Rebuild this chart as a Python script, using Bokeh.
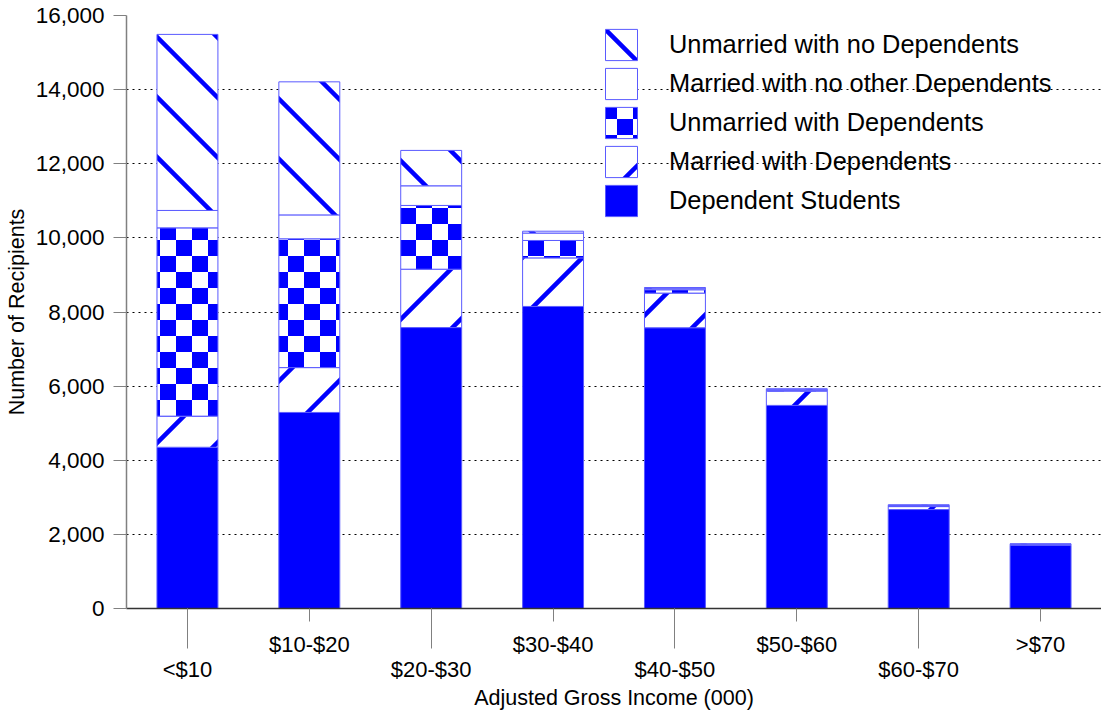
from bokeh.plotting import figure
from bokeh.core.properties import value
from bokeh.models import (ColumnDataSource, FactorRange, Range1d, LinearAxis, FixedTicker,
                          NumeralTickFormatter, Legend, LegendItem, CanvasTexture)
from bokeh.embed import file_html
from bokeh.resources import INLINE

# ---------------- data ----------------
categories = ["<$10", "$10-$20", "$20-$30", "$30-$40", "$40-$50", "$50-$60", "$60-$70", ">$70"]
dependent_students = [4350, 5290, 7580, 8150, 7575, 5480, 2670, 1700]
married_with_dependents = [840, 1210, 1575, 1310, 935, 385, 80, 25]
unmarried_with_dependents = [5080, 3475, 1720, 470, 90, 20, 15, 5]
married_no_other_dependents = [470, 645, 530, 200, 30, 20, 15, 5]
unmarried_no_dependents = [4750, 3590, 955, 50, 30, 25, 20, 10]
y_ticks = [0, 2000, 4000, 6000, 8000, 10000, 12000, 14000, 16000]
series_names = ["Dependent Students", "Married with Dependents", "Unmarried with Dependents",
                "Married with no other Dependents", "Unmarried with no Dependents"]

BLUE = "#0000ff"
FONT = "Liberation Sans"

src = ColumnDataSource(dict(
    cat=categories,
    ds=dependent_students,
    mwd=married_with_dependents,
    uwd=unmarried_with_dependents,
    mno=married_no_other_dependents,
    und=unmarried_no_dependents,
))
keys = ["ds", "mwd", "uwd", "mno", "und"]

p = figure(width=1101, height=714, x_range=FactorRange(*categories), y_range=Range1d(0, 16000),
           x_axis_type=None, output_backend="svg", toolbar_location=None,
           min_border_left=126, min_border_right=0, min_border_top=15, min_border_bottom=106)
p.outline_line_color = None
p.background_fill_color = "white"
p.border_fill_color = "white"

# pattern textures: large tiles (fewer seams), several stripes / squares per tile
right_diag = CanvasTexture(code="""
const S = 600, D = 60;
ctx.canvas.width = S; ctx.canvas.height = S;
ctx.strokeStyle = '#0000ff';
ctx.lineWidth = 4.5;
for (let k = -S; k <= S; k += D) {
  ctx.beginPath(); ctx.moveTo(k, S); ctx.lineTo(k + S, 0); ctx.stroke();
}
""")
left_diag = CanvasTexture(code="""
const S = 600, D = 60;
ctx.canvas.width = S; ctx.canvas.height = S;
ctx.strokeStyle = '#0000ff';
ctx.lineWidth = 4.5;
for (let k = -S; k <= S; k += D) {
  ctx.beginPath(); ctx.moveTo(k, 0); ctx.lineTo(k + S, S); ctx.stroke();
}
""")
checker = CanvasTexture(code="""
const S = 320, Q = 16;
ctx.canvas.width = S; ctx.canvas.height = S;
ctx.fillStyle = '#0000ff';
for (let i = 0; i < S / Q; i++) {
  for (let j = 0; j < S / Q; j++) {
    if ((i + j) % 2 === 0) ctx.fillRect(i * Q, j * Q, Q, Q);
  }
}
""")

fills = [BLUE, "white", "white", "white", "white"]
hatches = [value(" "), value("rdiag"), value("checker"), value(" "), value("ldiag")]
scales = [12, 40, 21, 12, 40]

renderers = p.vbar_stack(keys, x="cat", width=0.5, source=src,
                         fill_color=fills, hatch_pattern=hatches,
                         hatch_color=BLUE, hatch_scale=scales, hatch_weight=3,
                         hatch_extra={"rdiag": right_diag, "ldiag": left_diag, "checker": checker},
                         line_color="#5a5aff", line_width=1)

# legend (top to bottom reversed)
items = [LegendItem(label=series_names[i], renderers=[renderers[i]]) for i in range(4, -1, -1)]
legend = Legend(items=items, location=(475, 388), padding=0, margin=0, spacing=0,
                glyph_width=40, glyph_height=39, label_height=39, label_standoff=28,
                label_text_font=FONT, label_text_font_size="25.4px", label_text_color="black",
                border_line_color=None, background_fill_alpha=0)
p.add_layout(legend, "center")

# y axis
yax = p.yaxis[0]
yax.ticker = FixedTicker(ticks=y_ticks)
yax.formatter = NumeralTickFormatter(format="0,0")
yax.major_tick_out = 13
yax.major_tick_in = 0
yax.minor_tick_out = 0
yax.minor_tick_in = 0
yax.axis_line_color = "#808080"
yax.axis_line_width = 1.5
yax.major_tick_line_color = "#808080"
yax.major_label_text_font = FONT
yax.major_label_text_font_size = "22.5px"
yax.major_label_text_color = "black"
yax.major_label_standoff = 9
yax.axis_label = "Number of Recipients"
yax.axis_label_text_font = FONT
yax.axis_label_text_font_size = "21.5px"
yax.axis_label_text_font_style = "normal"
yax.axis_label_text_color = "black"
yax.axis_label_standoff = 4

p.ygrid.ticker = FixedTicker(ticks=y_ticks)
p.ygrid.grid_line_color = "black"
p.ygrid.grid_line_dash = "2 4"
p.ygrid.grid_line_width = 1

# x axis with staggered labels
centers = [i + 0.5 for i in range(len(categories))]
overrides = {}
for i, c in enumerate(categories):
    overrides[centers[i]] = ("\n" + c) if i % 2 == 0 else c
xax = LinearAxis(ticker=FixedTicker(ticks=centers, minor_ticks=centers[0::2]),
                 major_label_overrides=overrides)
xax.major_tick_out = 13
xax.major_tick_in = 0
xax.minor_tick_out = 40
xax.minor_tick_in = 0
xax.major_tick_line_color = "#808080"
xax.minor_tick_line_color = "#808080"
xax.axis_line_color = "#333333"
xax.axis_line_width = 1.5
xax.major_label_text_font = FONT
xax.major_label_text_font_size = "22px"
xax.major_label_text_color = "black"
xax.major_label_text_line_height = 1.0
xax.major_label_standoff = -17
xax.axis_label = "Adjusted Gross Income (000)"
xax.axis_label_text_font = FONT
xax.axis_label_text_font_size = "21.5px"
xax.axis_label_text_font_style = "normal"
xax.axis_label_text_color = "black"
xax.axis_label_standoff = 1
p.add_layout(xax, "below")

open("out.html", "w").write(file_html(p, INLINE))
